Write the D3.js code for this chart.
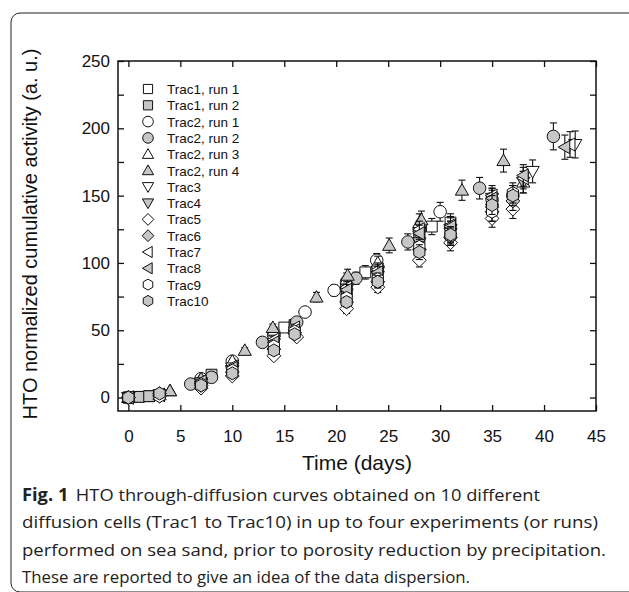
<!DOCTYPE html>
<html><head><meta charset="utf-8">
<script src="https://cdn.jsdelivr.net/npm/d3@7"></script>
<style>
html,body{margin:0;padding:0;background:#fff;}
svg{display:block;}
</style></head>
<body>
<script>
// ---------- DATA ----------
const seriesNames = ["Trac1, run 1","Trac1, run 2","Trac2, run 1","Trac2, run 2","Trac2, run 3","Trac2, run 4","Trac3","Trac4","Trac5","Trac6","Trac7","Trac8","Trac9","Trac10"];
const seriesShapes = ["square","square","circle","circle","triUp","triUp","triDown","triDown","diamond","diamond","triLeft","triLeft","hexagon","hexagon"];
const seriesFilled = [false,true,false,true,false,true,false,true,false,true,false,true,false,true];

const trac1run1T = [0,1,2,7,10,15,16,21,22.8,24,28,29.2,31];
const trac1run1V = [0,0.5,1,10,22,52,54,78,93,96,120,127,130];
const trac1run1E = [0.5,0.5,0.5,1,1.5,3,3,4,5,5,6,6,6.5];

const trac1run2T = [0,1,2,7,8,10,14,16,21,24,28,31];
const trac1run2V = [0,0.5,1,12,17,25,45,53,80,92,118,125];
const trac1run2E = [0.5,0.5,0.5,1,1,1.5,2.5,3,4,5,6,6];

const trac2run1T = [0,7,10,14,17,19.8,21,23.9,28,30,35];
const trac2run1V = [0,14,27,48,63.5,79.6,86,102,125,138,147];
const trac2run1E = [0.5,1,1.5,2.5,3,4,4.5,5,6,7,7];

const trac2run2T = [0,6,8,12.9,16.2,21.9,26.9,33.8,37,40.9];
const trac2run2V = [0,10,15,41,56,88.6,115.6,155.5,150,194];
const trac2run2E = [0.5,1,1,2,3,4.5,6,8,7.5,10];

const trac2run3T = [0,3,4,7,10,14,21,24,28,35,38];
const trac2run3V = [0,2,5,14,27,50,88,100,130,145,160];
const trac2run3E = [0.5,0.5,0.5,1,1.5,2.5,4.5,5,6.5,7,8];

const trac2run4T = [0,4,7,11.2,13.9,18.1,21.1,25.1,28.2,32.1,36.1];
const trac2run4V = [0,5,14,35,52,74.6,90.8,113,132,154,176];
const trac2run4E = [0.5,0.5,1,2,2.5,3.5,4.5,5.5,6.5,7.5,8.5];

const trac3T = [0,3,7,10,14,21,24,28,31,35,38.9,43];
const trac3V = [0,2,11,22,42,80,94,120,125,148,168,188];
const trac3E = [0.5,0.5,1,1.5,2,4,5,6,6,7.5,8.5,10];

const trac4T = [0,3,7,10,14,21,24,28,31,35,38];
const trac4V = [0,2,10,20,40,77,90,115,122,140,160];
const trac4E = [0.5,0.5,1,1,2,4,4.5,6,6,7,8];

const trac5T = [0,3,7,10,14,16.2,21,24,28,31,35,37];
const trac5V = [0,1,7,16,31,45,66,82,102,115,133,140];
const trac5E = [0.5,0.5,1,1,1.5,2.5,3.5,4,5,6,6.5,7];

const trac6T = [0,3,7,10,14,16,21,24,28,31,35,37];
const trac6V = [0,3,9,19,36,48,71,86,110,119,138,146];
const trac6E = [0.5,0.5,1,1,2,2.5,3.5,4.5,5.5,6,7,7];

const trac7T = [0,3,7,10,14,16,21,24,28,31,35,38,42.5];
const trac7V = [0,2,12,23,43,52,82,95,125,128,150,163,188];
const trac7E = [0.5,0.5,1,1,2,2.5,4,5,6,6.5,7.5,8,9.5];

const trac8T = [0,3,7,10,14,16,21,24,28,31,35,38,42];
const trac8V = [0,2,12,22,41,50,80,93,122,127,148,165,186];
const trac8E = [0.5,0.5,1,1,2,2.5,4,4.5,6,6.5,7.5,8,9];

const trac9T = [0,3,7,10,14,16,21,24,28,31,35,37];
const trac9V = [0,1,10,20,38,49,74,88,112,120,138,152];
const trac9E = [0.5,0.5,1,1,2,2.5,3.5,4.5,5.5,6,7,7.5];

const trac10T = [0,3,7,10,14,16,21,24,28,31,35,37];
const trac10V = [0,3,9,18,35,47,71,86,108,121,143,150];
const trac10E = [0.5,0.5,1,1,2,2.5,3.5,4.5,5.5,6,7,7.5];

const xTicks = [0,5,10,15,20,25,30,35,40,45];
const yTicks = [0,50,100,150,200,250];
const yMinorTicks = [25,75,125,175,225];
const xTitle = "Time (days)";
const yTitle = "HTO normalized cumulative activity (a. u.)";
const captionBold = "Fig. 1";
const captionLines = [
  "HTO through-diffusion curves obtained on 10 different",
  "diffusion cells (Trac1 to Trac10) in up to four experiments (or runs)",
  "performed on sea sand, prior to porosity reduction by precipitation.",
  "These are reported to give an idea of the data dispersion."
];

const allT = [trac1run1T,trac1run2T,trac2run1T,trac2run2T,trac2run3T,trac2run4T,trac3T,trac4T,trac5T,trac6T,trac7T,trac8T,trac9T,trac10T];
const allV = [trac1run1V,trac1run2V,trac2run1V,trac2run2V,trac2run3V,trac2run4V,trac3V,trac4V,trac5V,trac6V,trac7V,trac8V,trac9V,trac10V];
const allE = [trac1run1E,trac1run2E,trac2run1E,trac2run2E,trac2run3E,trac2run4E,trac3E,trac4E,trac5E,trac6E,trac7E,trac8E,trac9E,trac10E];

// ---------- LAYOUT ----------
const W = 629, H = 592;
const plot = {left:118, right:596, top:61, bottom:411};
const GRAY = "#c6c6c6";

const svg = d3.select("body").append("svg").attr("width",W).attr("height",H);

// outer rounded border
svg.append("rect").attr("x",11).attr("y",13).attr("width",660).attr("height",579)
  .attr("rx",9).attr("fill","none").attr("stroke","#222").attr("stroke-width",1);

const x = d3.scaleLinear().domain([-1,45]).range([plot.left,plot.right]);
const y = d3.scaleLinear().domain([-10,250]).range([plot.bottom,plot.top]);

const axFont = "'Liberation Sans', Arial, sans-serif";

function styleAxis(g){
  g.select(".domain").remove();
  g.selectAll(".tick line").attr("stroke","#111").attr("stroke-width",1.3);
  g.selectAll(".tick text").attr("font-family",axFont).attr("font-size",17).attr("fill","#111");
}

// bottom axis
svg.append("g").attr("transform",`translate(0,${plot.bottom})`)
  .call(d3.axisBottom(x).tickValues(xTicks).tickSize(-6).tickPadding(19).tickFormat(d3.format("d")))
  .call(styleAxis);
// top axis
svg.append("g").attr("transform",`translate(0,${plot.top})`)
  .call(d3.axisTop(x).tickValues(xTicks).tickSize(-6).tickFormat(""))
  .call(styleAxis);
// left axis
svg.append("g").attr("transform",`translate(${plot.left},0)`)
  .call(d3.axisLeft(y).tickValues(yTicks.concat(yMinorTicks)).tickSize(-6).tickPadding(8)
     .tickFormat(d => yTicks.includes(d) ? d3.format("d")(d) : ""))
  .call(styleAxis);
// right axis
svg.append("g").attr("transform",`translate(${plot.right},0)`)
  .call(d3.axisRight(y).tickValues(yTicks.concat(yMinorTicks)).tickSize(-6).tickFormat(""))
  .call(styleAxis);

// frame
svg.append("rect").attr("x",plot.left).attr("y",plot.top)
  .attr("width",plot.right-plot.left).attr("height",plot.bottom-plot.top)
  .attr("fill","none").attr("stroke","#111").attr("stroke-width",1.5);

// axis titles
svg.append("text").attr("x",357).attr("y",470).attr("text-anchor","middle")
  .attr("font-family",axFont).attr("font-size",21).attr("fill","#111").text(xTitle);
svg.append("text").attr("transform","translate(37,234) rotate(-90)").attr("text-anchor","middle")
  .attr("font-family",axFont).attr("font-size",20).attr("fill","#111").text(yTitle);

// ---------- SYMBOLS ----------
function shapePath(shape, s){
  switch(shape){
    case "square": return `M${-s*0.82},${-s*0.82}H${s*0.82}V${s*0.82}H${-s*0.82}Z`;
    case "circle": {const r=s*0.95; return `M${r},0A${r},${r} 0 1,1 ${-r},0A${r},${r} 0 1,1 ${r},0Z`;}
    case "triUp": return `M0,${-s}L${s},${s*0.75}L${-s},${s*0.75}Z`;
    case "triDown": return `M0,${s}L${s},${-s*0.75}L${-s},${-s*0.75}Z`;
    case "triLeft": return `M${-s},0L${s*0.75},${-s}L${s*0.75},${s}Z`;
    case "diamond": return `M0,${-s*1.05}L${s*1.05},0L0,${s*1.05}L${-s*1.05},0Z`;
    case "hexagon": {
      const r=s*0.98; let p="";
      for(let k=0;k<6;k++){const a=Math.PI/2+k*Math.PI/3; p+=(k?"L":"M")+(r*Math.cos(a)).toFixed(2)+","+(r*Math.sin(a)).toFixed(2);}
      return p+"Z";
    }
  }
}

const dataG = svg.append("g");
seriesNames.forEach((name,i)=>{
  const pts = allT[i].map((t,j)=>({t, v:allV[i][j], e:allE[i][j]}));
  const g = dataG.append("g");
  const eb = g.append("g").attr("stroke","#111").attr("stroke-width",1.1);
  pts.forEach(p=>{
    if(p.e<=0) return;
    const xc=x(p.t), y1=y(p.v+p.e), y2=y(p.v-p.e);
    eb.append("line").attr("x1",xc).attr("x2",xc).attr("y1",y1).attr("y2",y2);
    eb.append("line").attr("x1",xc-3.5).attr("x2",xc+3.5).attr("y1",y1).attr("y2",y1);
    eb.append("line").attr("x1",xc-3.5).attr("x2",xc+3.5).attr("y1",y2).attr("y2",y2);
  });
  g.selectAll("path.m").data(pts).enter().append("path")
    .attr("d",shapePath(seriesShapes[i],6.6))
    .attr("transform",d=>`translate(${x(d.t)},${y(d.v)})`)
    .attr("fill",seriesFilled[i]?GRAY:"#fff").attr("stroke","#111").attr("stroke-width",1);
});

// ---------- LEGEND ----------
const leg = svg.append("g");
const legY0 = 89, legDy = 16.3, legX = 148;
seriesNames.forEach((name,i)=>{
  const yy = legY0 + i*legDy;
  leg.append("path").attr("d",shapePath(seriesShapes[i],5.6))
    .attr("transform",`translate(${legX},${yy})`)
    .attr("fill",seriesFilled[i]?GRAY:"#fff").attr("stroke","#111").attr("stroke-width",1);
  leg.append("text").attr("x",167).attr("y",yy+5).attr("font-family",axFont)
    .attr("font-size",13.5).attr("fill","#111").text(name);
});

// ---------- CAPTION ----------
const capFont = "'Open Sans', 'Noto Sans', sans-serif";
const capX = 22, capY0 = 501, capDy = 27.3;
const capTargets = [540, 598, 606, 470];
captionLines.forEach((line,i)=>{
  const t = svg.append("text").attr("x",capX).attr("y",capY0+i*capDy)
    .attr("font-family",capFont).attr("font-size",17).attr("fill","#222");
  if(i===0){
    t.append("tspan").attr("font-weight","bold").text(captionBold);
    t.append("tspan").attr("dx",7).text(line);
  } else {
    t.text(line);
  }
  t.attr("textLength",capTargets[i]-capX).attr("lengthAdjust","spacingAndGlyphs");
});
</script>
</body></html>
